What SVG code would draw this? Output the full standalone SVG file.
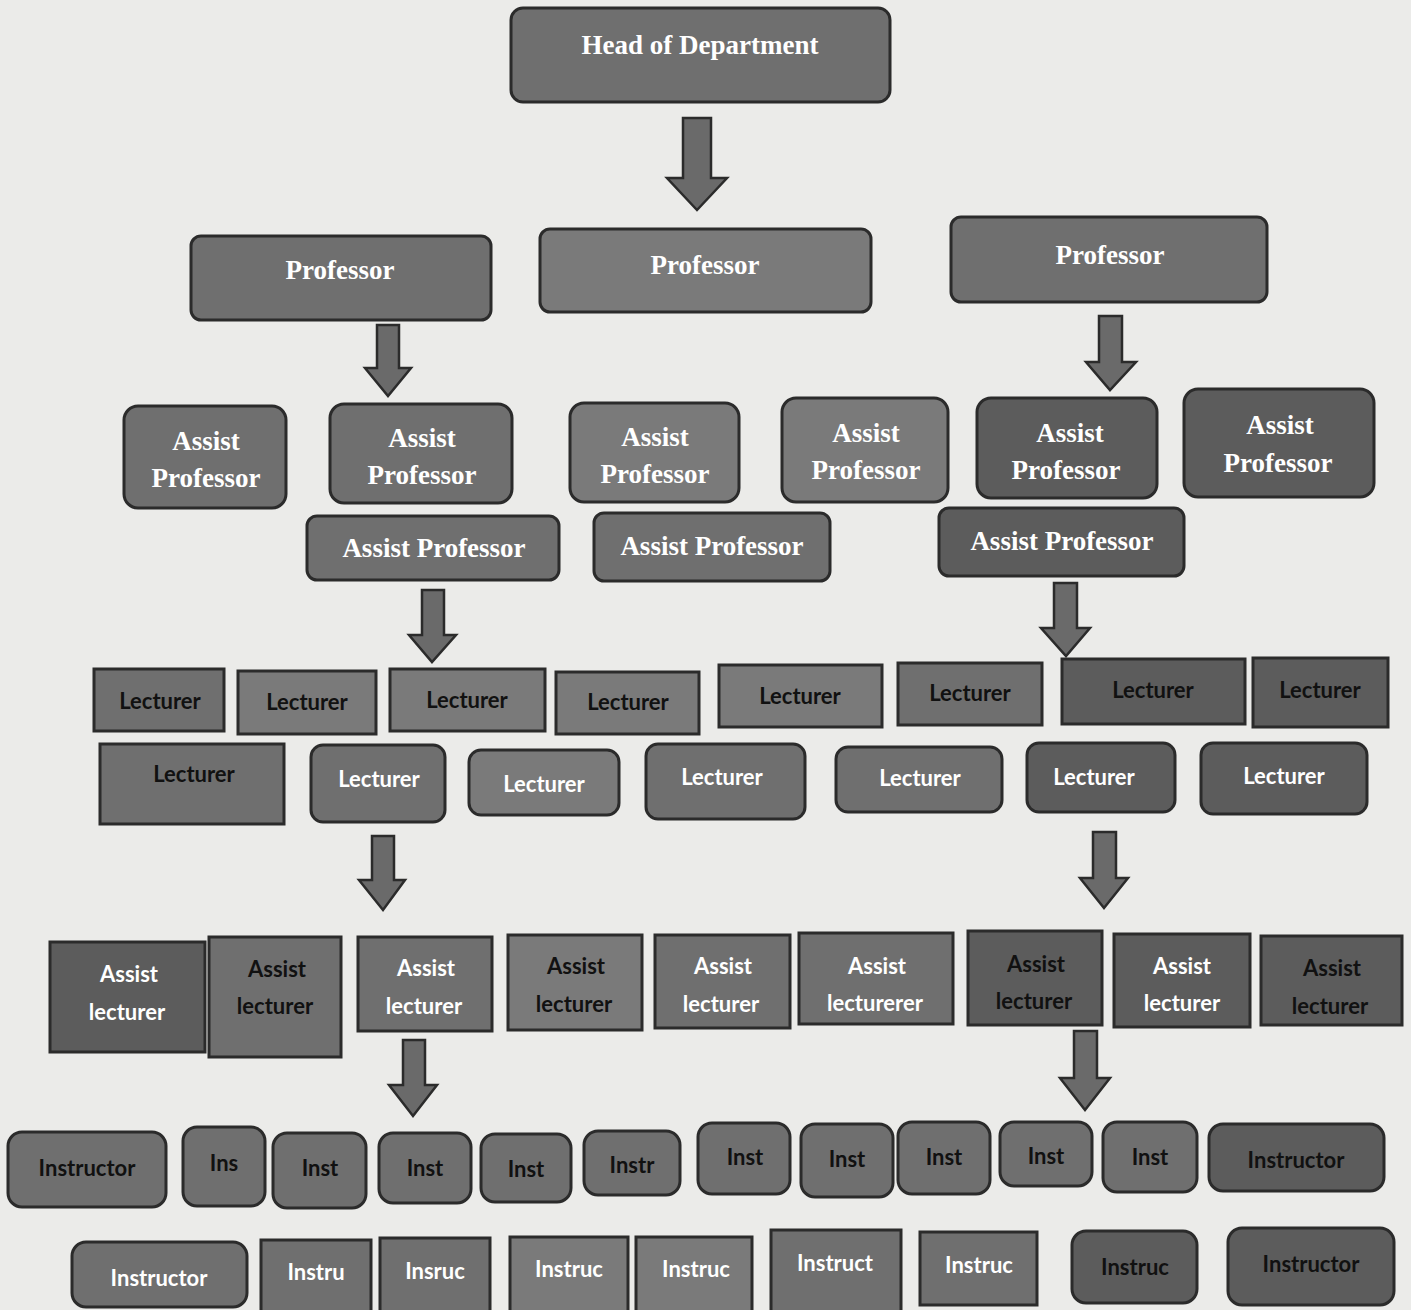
<svg xmlns="http://www.w3.org/2000/svg" width="1411" height="1310" viewBox="0 0 1411 1310">
<style>
.bx{fill:#6f6f6f;stroke:#2b2b2b;stroke-width:3}
.dk{fill:#5c5c5c}
.lt{fill:#7a7a7a}
.ar{fill:#6a6a6a;stroke:#2b2b2b;stroke-width:2.5;stroke-linejoin:miter}
.s{font-family:"Liberation Serif","Times New Roman",serif;font-weight:bold;font-size:27px;fill:#ffffff;text-anchor:middle;dominant-baseline:central}
.n{font-family:Lato,"Open Sans","Liberation Sans",sans-serif;font-weight:bold;font-size:22px;text-anchor:middle;dominant-baseline:central}
.w{fill:#ffffff}
.b{fill:#111111}
</style>
<rect width="1411" height="1310" fill="#ebebe9"/>
<g id="connectors">
<path class="ar" d="M683,118 H711 V178 H727 L697,210 L667,178 H683 Z"/>
<path class="ar" d="M377,325 H399 V368 H411 L388,396 L365,368 H377 Z"/>
<path class="ar" d="M1099,316 H1122 V362 H1136 L1110,390 L1086,362 H1099 Z"/>
<path class="ar" d="M422,590 H444 V635 H456 L432,662 L409,635 H422 Z"/>
<path class="ar" d="M1054,583 H1077 V628 H1090 L1066,656 L1041,628 H1054 Z"/>
<path class="ar" d="M372,836 H394 V880 H405 L383,910 L359,880 H372 Z"/>
<path class="ar" d="M1093,832 H1116 V878 H1128 L1104,908 L1080,878 H1093 Z"/>
<path class="ar" d="M403,1040 H425 V1085 H437 L413,1116 L389,1085 H403 Z"/>
<path class="ar" d="M1074,1031 H1097 V1078 H1110 L1085,1110 L1060,1078 H1074 Z"/>
</g>
<g id="hod"><rect class="bx" x="511" y="8" width="379" height="94" rx="12"/><text class="s" x="700" y="45">Head of Department</text></g>
<g id="prof1"><rect class="bx" x="191" y="236" width="300" height="84" rx="10"/><text class="s" x="340" y="270">Professor</text></g>
<g id="prof2"><rect class="bx lt" x="540" y="229" width="331" height="83" rx="10"/><text class="s" x="705" y="265">Professor</text></g>
<g id="prof3"><rect class="bx" x="951" y="217" width="316" height="85" rx="10"/><text class="s" x="1110" y="255">Professor</text></g>

<g id="ap1"><rect class="bx" x="124" y="406" width="162" height="102" rx="14"/><text class="s" x="206" y="441">Assist</text><text class="s" x="206" y="478">Professor</text></g>
<g id="ap2"><rect class="bx" x="330" y="404" width="182" height="99" rx="14"/><text class="s" x="422" y="438">Assist</text><text class="s" x="422" y="475">Professor</text></g>
<g id="ap3"><rect class="bx lt" x="570" y="403" width="169" height="99" rx="14"/><text class="s" x="655" y="437">Assist</text><text class="s" x="655" y="474">Professor</text></g>
<g id="ap4"><rect class="bx lt" x="782" y="398" width="166" height="104" rx="14"/><text class="s" x="866" y="433">Assist</text><text class="s" x="866" y="470">Professor</text></g>
<g id="ap5"><rect class="bx dk" x="977" y="398" width="180" height="100" rx="14"/><text class="s" x="1070" y="433">Assist</text><text class="s" x="1066" y="470">Professor</text></g>
<g id="ap6"><rect class="bx dk" x="1184" y="389" width="190" height="108" rx="14"/><text class="s" x="1280" y="425">Assist</text><text class="s" x="1278" y="463">Professor</text></g>
<g id="ap7"><rect class="bx" x="307" y="516" width="252" height="64" rx="10"/><text class="s" x="434" y="548">Assist Professor</text></g>
<g id="ap8"><rect class="bx" x="594" y="513" width="236" height="68" rx="10"/><text class="s" x="712" y="546">Assist Professor</text></g>
<g id="ap9"><rect class="bx dk" x="939" y="508" width="245" height="68" rx="10"/><text class="s" x="1062" y="541">Assist Professor</text></g>

<g id="l1"><rect class="bx" x="94" y="669" width="130" height="62"/><text class="n b" x="160" y="700">Lecturer</text></g>
<g id="l2"><rect class="bx lt" x="238" y="671" width="138" height="63"/><text class="n b" x="307" y="701">Lecturer</text></g>
<g id="l3"><rect class="bx lt" x="390" y="669" width="155" height="62"/><text class="n b" x="467" y="699">Lecturer</text></g>
<g id="l4"><rect class="bx lt" x="556" y="672" width="143" height="62"/><text class="n b" x="628" y="701">Lecturer</text></g>
<g id="l5"><rect class="bx lt" x="719" y="665" width="163" height="62"/><text class="n b" x="800" y="695">Lecturer</text></g>
<g id="l6"><rect class="bx" x="898" y="663" width="144" height="62"/><text class="n b" x="970" y="692">Lecturer</text></g>
<g id="l7"><rect class="bx dk" x="1062" y="659" width="183" height="65"/><text class="n b" x="1153" y="689">Lecturer</text></g>
<g id="l8"><rect class="bx dk" x="1253" y="658" width="135" height="69"/><text class="n b" x="1320" y="689">Lecturer</text></g>
<g id="l9"><rect class="bx" x="100" y="744" width="184" height="80"/><text class="n b" x="194" y="773">Lecturer</text></g>
<g id="l10"><rect class="bx" x="311" y="745" width="134" height="77" rx="12"/><text class="n w" x="379" y="778">Lecturer</text></g>
<g id="l11"><rect class="bx lt" x="469" y="750" width="150" height="65" rx="12"/><text class="n w" x="544" y="783">Lecturer</text></g>
<g id="l12"><rect class="bx" x="646" y="744" width="159" height="75" rx="12"/><text class="n w" x="722" y="776">Lecturer</text></g>
<g id="l13"><rect class="bx" x="836" y="747" width="166" height="65" rx="12"/><text class="n w" x="920" y="777">Lecturer</text></g>
<g id="l14"><rect class="bx dk" x="1027" y="743" width="148" height="69" rx="12"/><text class="n w" x="1094" y="776">Lecturer</text></g>
<g id="l15"><rect class="bx dk" x="1201" y="743" width="166" height="71" rx="12"/><text class="n w" x="1284" y="775">Lecturer</text></g>

<g id="al1"><rect class="bx dk" x="50" y="942" width="155" height="110"/><text class="n w" x="129" y="973">Assist</text><text class="n w" x="127" y="1011">lecturer</text></g>
<g id="al2"><rect class="bx" x="209" y="937" width="132" height="120"/><text class="n b" x="277" y="968">Assist</text><text class="n b" x="275" y="1005">lecturer</text></g>
<g id="al3"><rect class="bx" x="358" y="937" width="134" height="94"/><text class="n w" x="426" y="967">Assist</text><text class="n w" x="424" y="1005">lecturer</text></g>
<g id="al4"><rect class="bx lt" x="508" y="935" width="134" height="95"/><text class="n b" x="576" y="965">Assist</text><text class="n b" x="574" y="1003">lecturer</text></g>
<g id="al5"><rect class="bx" x="655" y="935" width="135" height="93"/><text class="n w" x="723" y="965">Assist</text><text class="n w" x="721" y="1003">lecturer</text></g>
<g id="al6"><rect class="bx" x="799" y="933" width="154" height="91"/><text class="n w" x="877" y="965">Assist</text><text class="n w" x="875" y="1002">lecturerer</text></g>
<g id="al7"><rect class="bx dk" x="968" y="931" width="134" height="94"/><text class="n b" x="1036" y="963">Assist</text><text class="n b" x="1034" y="1000">lecturer</text></g>
<g id="al8"><rect class="bx dk" x="1114" y="934" width="136" height="93"/><text class="n w" x="1182" y="965">Assist</text><text class="n w" x="1182" y="1002">lecturer</text></g>
<g id="al9"><rect class="bx dk" x="1261" y="936" width="141" height="89"/><text class="n b" x="1332" y="967">Assist</text><text class="n b" x="1330" y="1005">lecturer</text></g>

<g id="i1"><rect class="bx" x="8" y="1132" width="158" height="75" rx="14"/><text class="n b" x="87" y="1167">Instructor</text></g>
<g id="i2"><rect class="bx" x="183" y="1127" width="82" height="79" rx="14"/><text class="n b" x="224" y="1162">Ins</text></g>
<g id="i3"><rect class="bx" x="273" y="1133" width="93" height="75" rx="14"/><text class="n b" x="320" y="1167">Inst</text></g>
<g id="i4"><rect class="bx" x="379" y="1133" width="92" height="70" rx="14"/><text class="n b" x="425" y="1167">Inst</text></g>
<g id="i5"><rect class="bx" x="481" y="1134" width="90" height="68" rx="14"/><text class="n b" x="526" y="1168">Inst</text></g>
<g id="i6"><rect class="bx" x="584" y="1131" width="96" height="64" rx="14"/><text class="n b" x="632" y="1164">Instr</text></g>
<g id="i7"><rect class="bx" x="698" y="1123" width="92" height="71" rx="14"/><text class="n b" x="745" y="1156">Inst</text></g>
<g id="i8"><rect class="bx" x="801" y="1124" width="92" height="73" rx="14"/><text class="n b" x="847" y="1158">Inst</text></g>
<g id="i9"><rect class="bx" x="898" y="1122" width="92" height="72" rx="14"/><text class="n b" x="944" y="1156">Inst</text></g>
<g id="i10"><rect class="bx" x="1000" y="1122" width="92" height="64" rx="14"/><text class="n b" x="1046" y="1155">Inst</text></g>
<g id="i11"><rect class="bx" x="1103" y="1122" width="94" height="70" rx="14"/><text class="n b" x="1150" y="1156">Inst</text></g>
<g id="i12"><rect class="bx dk" x="1209" y="1124" width="175" height="67" rx="14"/><text class="n b" x="1296" y="1159">Instructor</text></g>

<g id="j1"><rect class="bx" x="72" y="1242" width="175" height="65" rx="14"/><text class="n w" x="159" y="1277">Instructor</text></g>
<g id="j2"><rect class="bx" x="261" y="1240" width="110" height="72"/><text class="n w" x="316" y="1271">Instru</text></g>
<g id="j3"><rect class="bx" x="380" y="1238" width="110" height="74"/><text class="n w" x="435" y="1270">Insruc</text></g>
<g id="j4"><rect class="bx lt" x="510" y="1237" width="118" height="75"/><text class="n w" x="569" y="1268">Instruc</text></g>
<g id="j5"><rect class="bx lt" x="636" y="1237" width="116" height="75"/><text class="n w" x="696" y="1268">Instruc</text></g>
<g id="j6"><rect class="bx" x="771" y="1230" width="130" height="82"/><text class="n w" x="835" y="1262">Instruct</text></g>
<g id="j7"><rect class="bx" x="920" y="1232" width="117" height="73"/><text class="n w" x="979" y="1264">Instruc</text></g>
<g id="j8"><rect class="bx dk" x="1072" y="1231" width="125" height="72" rx="14"/><text class="n b" x="1135" y="1266">Instruc</text></g>
<g id="j9"><rect class="bx dk" x="1228" y="1228" width="166" height="77" rx="14"/><text class="n b" x="1311" y="1263">Instructor</text></g>
</svg>
